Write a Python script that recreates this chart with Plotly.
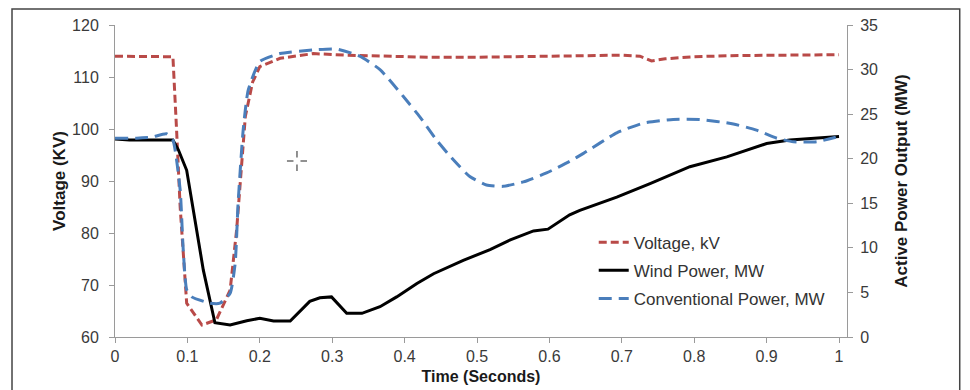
import plotly.graph_objects as go

# Voltage (kV, left axis)
t_volt = [0, 0.02, 0.04, 0.06, 0.08, 0.085, 0.09, 0.099, 0.12, 0.14, 0.159, 0.168, 0.175,
          0.18, 0.19, 0.2, 0.228, 0.274, 0.32, 0.38, 0.435, 0.5, 0.55, 0.628, 0.7, 0.725,
          0.741, 0.76, 0.8, 0.85, 0.9, 0.95, 1.0]
voltage = [114.0, 114.0, 114.0, 114.0, 113.9, 100.0, 85.0, 66.5, 62.3, 63.3, 69.0, 80.6, 93.4,
           102.4, 109.0, 112.0, 113.6, 114.5, 114.2, 114.0, 113.8, 113.8, 113.9, 114.2, 114.2, 114.0,
           113.1, 113.5, 113.9, 114.1, 114.2, 114.3, 114.3]

# Wind power (MW, right axis)
t_wind = [0, 0.02, 0.04, 0.06, 0.08, 0.0875, 0.099, 0.122, 0.138, 0.159, 0.182, 0.2, 0.219,
          0.242, 0.269, 0.283, 0.299, 0.32, 0.341, 0.366, 0.389, 0.417, 0.44, 0.481, 0.518,
          0.546, 0.578, 0.598, 0.628, 0.642, 0.693, 0.739, 0.794, 0.845, 0.9, 0.932, 0.969, 1.0]
wind = [22.2, 22.1, 22.1, 22.1, 22.1, 21.0, 18.7, 7.5, 1.6, 1.35, 1.83, 2.1, 1.8,
        1.8, 4.0, 4.4, 4.5, 2.66, 2.66, 3.4, 4.5, 6.0, 7.1, 8.6, 9.8,
        10.9, 11.9, 12.1, 13.7, 14.2, 15.7, 17.2, 19.1, 20.2, 21.7, 22.1, 22.3, 22.5]

# Conventional power (MW, right axis)
t_conv = [0, 0.03, 0.05, 0.071, 0.08, 0.09, 0.094, 0.099, 0.106, 0.131, 0.145, 0.159, 0.166,
          0.170, 0.177, 0.184, 0.2, 0.228, 0.274, 0.306, 0.338, 0.366, 0.398, 0.421, 0.444,
          0.467, 0.49, 0.513, 0.536, 0.564, 0.596, 0.628, 0.647, 0.693, 0.73, 0.771, 0.808,
          0.854, 0.886, 0.914, 0.937, 0.969, 1.0]
conv = [22.3, 22.3, 22.4, 22.8, 22.1, 16.5, 10.1, 5.3, 4.5, 3.8, 3.8, 4.9, 8.3,
        15.0, 23.2, 27.7, 30.9, 31.8, 32.2, 32.3, 31.5, 30.0, 27.0, 24.7, 22.1,
        19.9, 18.0, 17.05, 16.9, 17.4, 18.4, 19.7, 20.6, 22.9, 24.0, 24.4, 24.4,
        23.9, 23.2, 22.3, 21.9, 21.9, 22.5]

x_ticks = [0, 0.1, 0.2, 0.3, 0.4, 0.5, 0.6, 0.7, 0.8, 0.9, 1]
x_tick_text = ["0", "0.1", "0.2", "0.3", "0.4", "0.5", "0.6", "0.7", "0.8", "0.9", "1"]

FONT = "Liberation Sans, Arial, sans-serif"
AXIS_COLOR = "#9a9a9a"
TICK_FONT = dict(family=FONT, size=16, color="#3a3a3a")
TITLE_FONT = dict(family=FONT, size=17, color="#1a1a1a")

fig = go.Figure()
fig.add_trace(go.Scatter(x=t_volt, y=voltage, name="Voltage, kV", mode="lines",
                         legendgroup="v",
                         line=dict(color="#b94a48", width=3, dash="8px,4px"), yaxis="y"))
fig.add_trace(go.Scatter(x=t_wind, y=wind, name="Wind Power, MW", mode="lines",
                         legendgroup="w",
                         line=dict(color="#000000", width=3), yaxis="y2"))
fig.add_trace(go.Scatter(x=t_conv, y=conv, name="Conventional Power, MW", mode="lines",
                         legendgroup="c",
                         line=dict(color="#4a7ebb", width=3, dash="13px,7px", shape="spline",
                                   smoothing=0.5), yaxis="y2"))

# small dashed cursor cross seen in the source image (decoration, paper coords)
cx, cy = 0.2486, 0.5641
dx, dy = 0.0137, 0.032
cross = []
for (x0, y0, x1, y1) in [(cx - dx, cy, cx - dx * 0.35, cy), (cx + dx * 0.35, cy, cx + dx, cy),
                         (cx, cy - dy, cx, cy - dy * 0.35), (cx, cy + dy * 0.35, cx, cy + dy)]:
    cross.append(dict(type="line", xref="paper", yref="paper", x0=x0, y0=y0, x1=x1, y1=y1,
                      line=dict(color="#555555", width=1.3)))

# The page body adds an 8px offset, so the figure is sized 8px smaller.
fig.update_layout(
    width=962, height=382,
    margin=dict(l=107, r=123, t=17, b=53, autoexpand=False),
    paper_bgcolor="white", plot_bgcolor="white",
    font=dict(family=FONT, size=14, color="#333333"),
    showlegend=True,
    legend=dict(x=0.654, y=0.36, xanchor="left", yanchor="top",
                bgcolor="rgba(0,0,0,0)", font=dict(family=FONT, size=17, color="#333333"),
                tracegroupgap=3, itemwidth=30),
    xaxis=dict(range=[0, 1.011], tickvals=x_ticks, ticktext=x_tick_text, automargin=False,
               showgrid=False, zeroline=False, showline=True, linecolor=AXIS_COLOR,
               linewidth=1, ticks="outside", ticklen=5, tickcolor=AXIS_COLOR,
               tickfont=TICK_FONT,
               title=dict(text="<b>Time (Seconds)</b>", font=dict(family=FONT, size=16, color="#1a1a1a"),
                          standoff=6)),
    yaxis=dict(range=[60, 120], dtick=10, showgrid=False, zeroline=False, showline=True,
               automargin=False,
               linecolor=AXIS_COLOR, linewidth=1, ticks="outside", ticklen=5,
               tickcolor=AXIS_COLOR, tickfont=TICK_FONT, ticklabelstandoff=7,
               title=dict(text="<b>Voltage (KV)</b>", font=TITLE_FONT, standoff=2)),
    yaxis2=dict(range=[0, 35], dtick=5, overlaying="y", side="right", showgrid=False,
                automargin=False,
                zeroline=False, showline=True, linecolor=AXIS_COLOR, linewidth=1,
                ticks="outside", ticklen=5, tickcolor=AXIS_COLOR, tickfont=TICK_FONT,
                ticklabelstandoff=4,
                title=dict(text="<b>Active Power Output (MW)</b>", font=TITLE_FONT, standoff=18)),
    shapes=[dict(type="rect", xref="paper", yref="paper", x0=-0.1407, x1=1.154,
                 y0=-0.2, y1=1.051, line=dict(color="#444444", width=1.5),
                 fillcolor="rgba(0,0,0,0)", layer="below")] + cross,
)

fig.write_html("out.html")
